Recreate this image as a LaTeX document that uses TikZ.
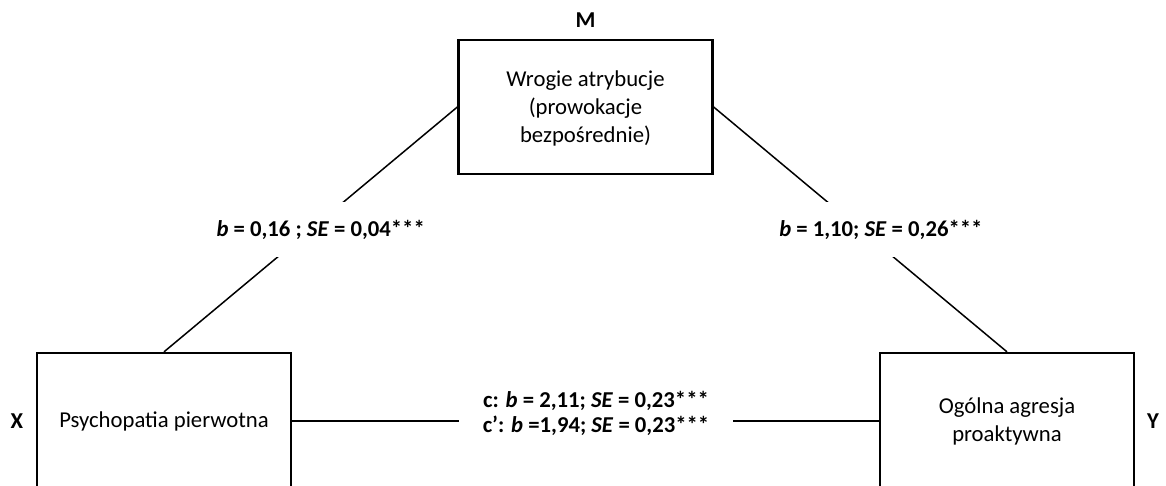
\documentclass[tikz,border=0pt]{standalone}
\usepackage{fontspec}
\setmainfont{Carlito}
\begin{document}
\begin{tikzpicture}[x=1pt,y=-1pt,
  every node/.style={font=\fontsize{22.7}{28}\selectfont},
  box/.style={draw, line width=2.3pt, minimum width=254pt, align=center, inner sep=0pt},
  conn/.style={line width=1.5pt},
  lbl/.style={fill=white, font=\fontsize{22.7}{25}\selectfont\bfseries, align=center, inner sep=0pt},
  tag/.style={font=\fontsize{22.7}{28}\selectfont\bfseries}]
\useasboundingbox (0,0) rectangle (1166,486);
\clip (0,0) rectangle (1166,486);
\node[box, minimum height=134pt, text depth=0pt] (M) at (585.5,107) {Wrogie atrybucje\\(prowokacje\\bezpośrednie)};
\node[box, minimum height=136pt] (X) at (164,421) {Psychopatia pierwotna};
\node[box, minimum height=136pt] (Y) at (1007,421) {Ogólna agresja\\proaktywna};
\node[tag] (tM) at (585.5,20) {M};
\node[tag] (tX) at (17,421) {X};
\node[tag] (tY) at (1153,421) {Y};
\draw[conn] (M.west) -- node[lbl, midway, xshift=10pt, minimum height=55pt, minimum width=215pt] (lL) {\textit{b} = 0,16 ; \textit{SE} = 0,04***} (X.north);
\draw[conn] (M.east) -- node[lbl, midway, xshift=20.5pt, minimum height=55pt, minimum width=210pt] (lR) {\textit{b} = 1,10; \textit{SE} = 0,26***} (Y.north);
\draw[conn] (X.east) -- node[lbl, midway, xshift=10.5pt, yshift=8pt, minimum width=274pt] (lC) {c: \textit{b} = 2,11; \textit{SE} = 0,23***\\c’: \textit{b} =1,94; \textit{SE} = 0,23***} (Y.west);
\end{tikzpicture}
\end{document}
